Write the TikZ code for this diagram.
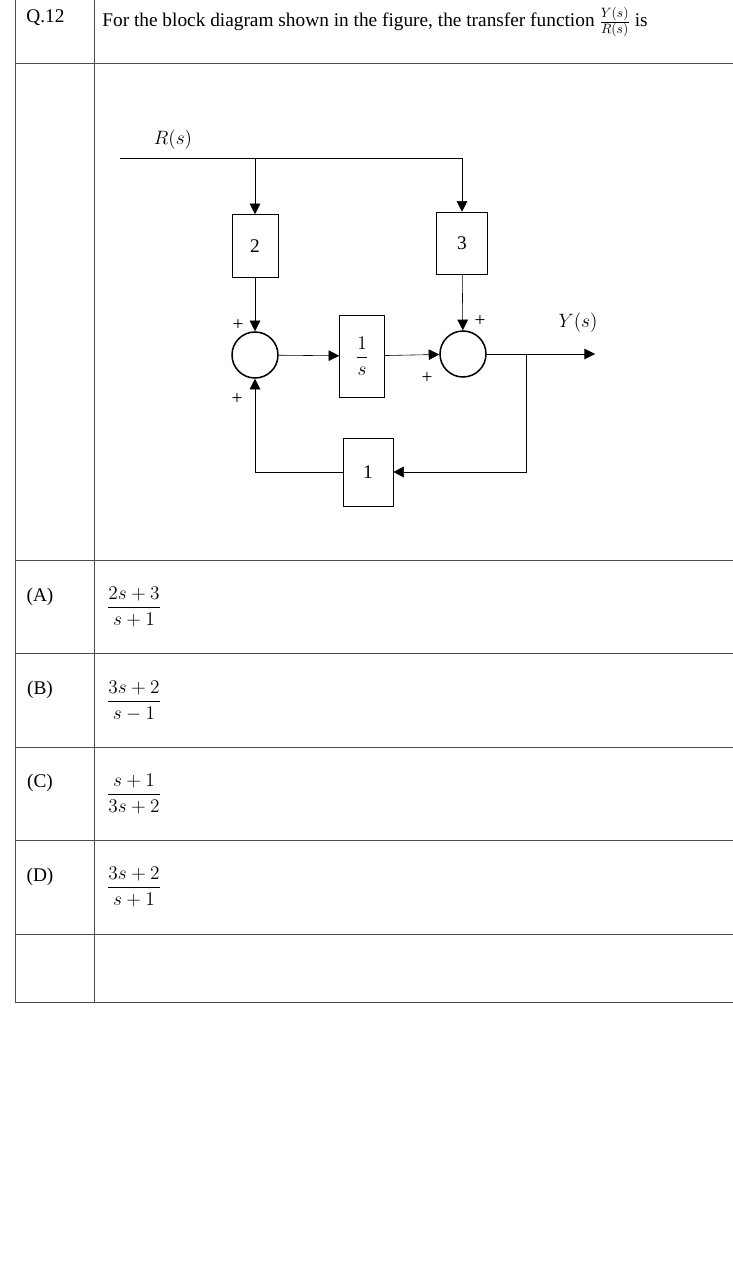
\documentclass[tikz,border=0pt]{standalone}
\usepackage{fix-cm}
\usepackage{fontspec}
\setmainfont{Liberation Serif}
\usepackage{amsmath}
\usetikzlibrary{arrows.meta,positioning}
\tikzset{every picture/.style={line width=0.75pt}}
\tikzset{
  blk/.style={draw, line width=0.5pt, minimum width=#1, inner sep=0pt},
  sumj/.style={draw, circle, line width=1.3pt, minimum size=1.38cm, inner sep=0pt},
  sig/.style={-{Triangle[length=9pt,width=9pt]}, line width=0.5pt},
  grid/.style={draw=black!70, line width=0.6pt}
}
\begin{document}
\begin{tikzpicture}[x=0.03cm,y=-0.03cm,font=\fontsize{16.5}{19}\selectfont]
\useasboundingbox (0,0) rectangle (733,1262);
% table
\draw[grid] (15,0) -- (15,1002) (94,0) -- (94,1002);
\foreach \yy in {63,560,653,747,840,934,1002}
  \draw[grid] (15,\yy) -- (733,\yy);
\node[anchor=west] (q) at (22,18) {Q.12};
\node[anchor=west] (txt) at (98,22) {For the block diagram shown in the figure, the transfer function $\frac{Y(s)}{R(s)}$ is};
% blocks
\node[blk=1.38cm, minimum height=1.89cm] (g2) at (255,246) {2};
\node[blk=1.53cm, minimum height=1.86cm] (g3) at (462,243) {3};
\node[sumj] (s1) at (255,355) {};
\node[sumj] (s2) at (463,354) {};
\node[blk=1.35cm, minimum height=2.46cm] (gi) at (362,356) {$\dfrac{1}{s}$};
\node[blk=1.5cm, minimum height=2.04cm] (gf) at (368,472) {1};
\coordinate (r0) at (120,158);
\coordinate (r1) at (462,158);
\coordinate (yout) at (595,354);
\coordinate (br) at (526,354);
\node (rl) at (173,140) {$R(s)$};
\node (yl) at (578,323) {$Y(s)$};
% connectors
\draw[line width=0.5pt] (r0) -- (r1);
\draw[sig] (g2.north |- r0) -- (g2.north);
\draw[sig] (r1) -- (g3.north);
\draw[sig] (g2) -- (s1);
\draw[sig] (g3) -- (s2);
\draw[sig] (s1) -- (gi);
\draw[sig] (gi) -- (s2);
\draw[sig] (s2) -- (yout);
\draw[sig] (br) |- (gf);
\draw[sig] (gf) -| (s1);
% signs
\node at (238,325) {+};
\node at (237,399) {+};
\node at (427,378) {+};
\node at (480,321) {+};
% options
\node (la) at (40,597) {(A)};
\node (lb) at (40,690) {(B)};
\node (lc) at (40,783) {(C)};
\node (ld) at (40,877) {(D)};
\node (fa) at (134,607) {$\dfrac{2s+3}{s+1}$};
\node (fb) at (134,701) {$\dfrac{3s+2}{s-1}$};
\node (fc) at (134,794) {$\dfrac{s+1}{3s+2}$};
\node (fd) at (134,887) {$\dfrac{3s+2}{s+1}$};
\end{tikzpicture}
\end{document}
